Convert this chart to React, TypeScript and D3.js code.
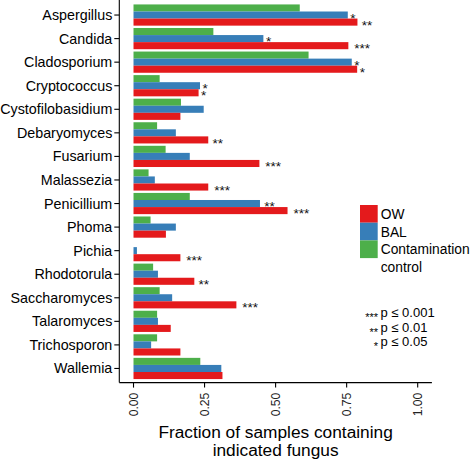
import * as d3 from 'd3';
import React from 'react';

const categories = [
  "Aspergillus", "Candida", "Cladosporium", "Cryptococcus", "Cystofilobasidium",
  "Debaryomyces", "Fusarium", "Malassezia", "Penicillium", "Phoma", "Pichia",
  "Rhodotorula", "Saccharomyces", "Talaromyces", "Trichosporon", "Wallemia",
];

const owValues = [0.788, 0.756, 0.787, 0.229, 0.165, 0.263, 0.443, 0.263, 0.542, 0.114, 0.165, 0.214, 0.362, 0.131, 0.165, 0.313];
const balValues = [0.754, 0.457, 0.768, 0.234, 0.247, 0.149, 0.198, 0.075, 0.445, 0.149, 0.012, 0.086, 0.136, 0.086, 0.062, 0.309];
const controlValues = [0.585, 0.281, 0.616, 0.092, 0.167, 0.083, 0.113, 0.053, 0.198, 0.06, 0, 0.069, 0.092, 0.083, 0.083, 0.235];

const owStars = ["**", "***", "*", "*", "", "**", "***", "***", "***", "", "***", "**", "***", "", "", ""];
const balStars = ["*", "*", "*", "*", "", "", "", "", "**", "", "", "", "", "", "", ""];

const xTicks = [0, 0.25, 0.5, 0.75, 1];
const groups = ["Contamination control", "BAL", "OW"];
const legendKeys = ["OW", "BAL", "Contamination"];
const pLegend = [["***", "p ≤ 0.001"], ["**", "p ≤ 0.01"], ["*", "p ≤ 0.05"]];

const colors: any = { OW: "#E41A1C", BAL: "#377EB8", "Contamination control": "#4DAF4A", Contamination: "#4DAF4A" };
const font = "'Liberation Sans', Arial, Helvetica, sans-serif";

export default function App(): any {
  const width = 472;
  const height = 461;
  const panel = { left: 119.3, right: 431.9, top: 0.9, bottom: 382.6 };

  const x = d3.scaleLinear().domain([-0.05, 1.05]).range([panel.left, panel.right]);
  const y = d3.scaleBand().domain(categories).range([panel.top, panel.bottom]).paddingInner(0).paddingOuter(0.1);
  const step = y.step();
  const sub = d3.scaleBand().domain(groups).range([0.05 * step, 0.95 * step]);

  const series = [
    { key: "Contamination control", values: controlValues, stars: null as any },
    { key: "BAL", values: balValues, stars: balStars },
    { key: "OW", values: owValues, stars: owStars },
  ];

  return (
    <svg width={width} height={height} style={{ position: "absolute", left: 0, top: 0 }} fontFamily={font}>
      <rect width={width} height={height} fill="white" />
      {series.map((s) => (
        <g key={s.key}>
          {categories.map((c, i) => (
            <rect
              key={c}
              x={x(0)}
              y={(y(c) || 0) + (sub(s.key) || 0)}
              width={x(s.values[i]) - x(0)}
              height={sub.bandwidth()}
              fill={colors[s.key]}
            />
          ))}
          {s.stars && categories.map((c, i) => s.stars[i] ? (
            <text
              key={c + "s"}
              x={x(s.values[i]) + 0.8 + 1.7 * s.stars[i].length}
              y={(y(c) || 0) + (sub(s.key) || 0) + sub.bandwidth() / 2 + 7.6}
              fontSize={13.5}
              fill="#111"
            >{s.stars[i]}</text>
          ) : null)}
        </g>
      ))}

      {/* y axis */}
      <line x1={panel.left} x2={panel.left} y1={0} y2={panel.bottom} stroke="black" strokeWidth={1.1} />
      {categories.map((c) => {
        const cy = (y(c) || 0) + step / 2;
        return (
          <g key={c}>
            <line x1={panel.left - 5} x2={panel.left} y1={cy} y2={cy} stroke="black" strokeWidth={1.1} />
            <text x={panel.left - 7} y={cy + 5} textAnchor="end" fontSize={14.3} fill="black">{c}</text>
          </g>
        );
      })}

      {/* x axis */}
      <line x1={panel.left} x2={panel.right} y1={panel.bottom} y2={panel.bottom} stroke="black" strokeWidth={1.1} />
      {xTicks.map((t) => (
        <g key={t}>
          <line x1={x(t)} x2={x(t)} y1={panel.bottom} y2={panel.bottom + 5} stroke="black" strokeWidth={1.1} />
          <text
            transform={"translate(" + (x(t) + 4.3) + "," + (panel.bottom + 10) + ") rotate(-90)"}
            textAnchor="end"
            fontSize={12.2}
            fill="#222"
          >{d3.format(".2f")(t)}</text>
        </g>
      ))}
      <text x={x(0.5)} y={437.5} textAnchor="middle" fontSize={17.3} fill="black">Fraction of samples containing</text>
      <text x={x(0.5)} y={456} textAnchor="middle" fontSize={17.3} fill="black">indicated fungus</text>

      {/* legend */}
      {legendKeys.map((k, i) => (
        <g key={k}>
          <rect x={360} y={205 + i * 17.7} width={17.7} height={17.7} fill={colors[k]} />
          <text x={380.7} y={219 + i * 17.7} fontSize={13.8} fill="black">{k}</text>
        </g>
      ))}
      <text x={380.7} y={272} fontSize={13.8} fill="black">control</text>

      {pLegend.map((p, i) => (
        <g key={p[1]}>
          <text x={378} y={321 + i * 14.6} textAnchor="end" fontSize={11} fill="black">{p[0]}</text>
          <text x={380.5} y={317 + i * 14.6} fontSize={13} fill="black">{p[1]}</text>
        </g>
      ))}
    </svg>
  );
}
